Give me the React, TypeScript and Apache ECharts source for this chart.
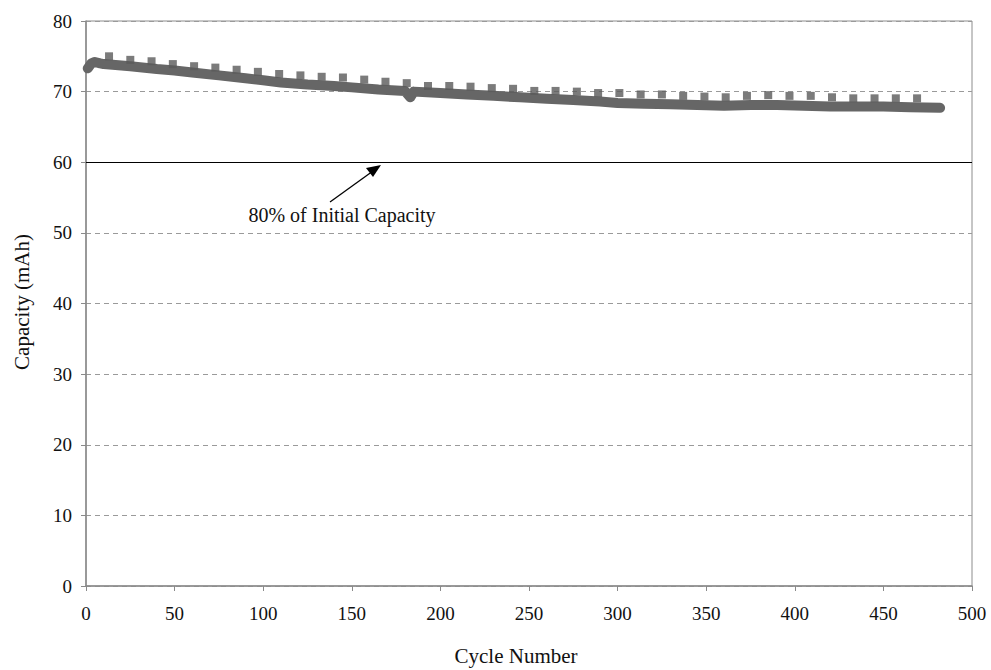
import React, { useEffect, useRef } from "react";
import * as echarts from "echarts";

// Main capacity trace (cycle, mAh)
const bandCycles = [1, 3, 5, 8, 10, 15, 25, 40, 50, 60, 75, 90, 100, 110, 125, 140, 150, 165, 180, 183, 185, 200, 215, 230, 245, 260, 275, 290, 300, 315, 330, 345, 360, 375, 390, 405, 420, 435, 450, 465, 482];
const bandValues = [73.3, 74.0, 74.2, 74.0, 73.9, 73.8, 73.6, 73.2, 73.0, 72.7, 72.3, 71.9, 71.6, 71.3, 71.0, 70.8, 70.6, 70.3, 70.1, 69.2, 70.0, 69.8, 69.6, 69.4, 69.2, 69.0, 68.8, 68.6, 68.4, 68.3, 68.2, 68.1, 68.0, 68.1, 68.1, 68.0, 67.9, 67.9, 67.9, 67.8, 67.7];

// Periodic check-up cycles (every 12th cycle)
const checkCycles = [13, 25, 37, 49, 61, 73, 85, 97, 109, 121, 133, 145, 157, 169, 181, 193, 205, 217, 229, 241, 253, 265, 277, 289, 301, 313, 325, 337, 349, 361, 373, 385, 397, 409, 421, 433, 445, 457, 469];
const checkValues = [75.0, 74.5, 74.3, 73.9, 73.6, 73.4, 73.1, 72.8, 72.5, 72.3, 72.1, 72.0, 71.7, 71.4, 71.2, 70.8, 70.8, 70.7, 70.5, 70.4, 70.1, 70.1, 70.0, 69.8, 69.8, 69.6, 69.6, 69.4, 69.3, 69.2, 69.4, 69.5, 69.4, 69.4, 69.2, 69.05, 69.05, 69.05, 69.05];

const xTicks = { min: 0, max: 500, interval: 50 };
const yTicks = { min: 0, max: 80, interval: 10 };
const thresholdValue = 60;
const annotationText = "80% of Initial Capacity";
const xName = "Cycle Number";
const yName = "Capacity (mAh)";

const FONT = "'Liberation Serif', 'Times New Roman', serif";

export default function App() {
  const ref = useRef<HTMLDivElement>(null);
  useEffect(() => {
    if (!ref.current) return;
    const chart = echarts.init(ref.current, undefined, { renderer: "svg" });
    const band = bandCycles.map((c, i) => [c, bandValues[i]]);
    const checks = checkCycles.map((c, i) => [c, checkValues[i]]);
    chart.setOption({
      animation: false,
      backgroundColor: "#ffffff",
      textStyle: { fontFamily: FONT },
      grid: {
        left: 86,
        top: 21,
        right: 19,
        bottom: 84,
        show: true,
        borderColor: "#8c8c8c",
        borderWidth: 1,
        containLabel: false,
      },
      xAxis: {
        type: "value",
        min: xTicks.min,
        max: xTicks.max,
        interval: xTicks.interval,
        axisLine: { show: true, lineStyle: { color: "#8a8a8a", width: 1.5 } },
        axisTick: { show: true, inside: false, length: 5, lineStyle: { color: "#8a8a8a" } },
        axisLabel: { color: "#111", fontSize: 19, fontFamily: FONT, margin: 18 },
        splitLine: { show: false },
      },
      yAxis: {
        type: "value",
        min: yTicks.min,
        max: yTicks.max,
        interval: yTicks.interval,
        axisLine: { show: true, lineStyle: { color: "#8a8a8a", width: 1.5 } },
        axisTick: { show: true, inside: false, length: 5, lineStyle: { color: "#8a8a8a" } },
        axisLabel: { color: "#111", fontSize: 19, fontFamily: FONT, margin: 14 },
        splitLine: { show: true, lineStyle: { color: "#9a9a9a", type: [5, 4], width: 1 } },
      },
      series: [
        {
          type: "line",
          data: band,
          showSymbol: false,
          symbol: "none",
          lineStyle: { color: "#666666", width: 10, cap: "round", join: "round" },
          z: 3,
          markLine: {
            silent: true,
            symbol: ["none", "none"],
            label: { show: false },
            lineStyle: { color: "#000", type: "solid", width: 1.2 },
            data: [{ yAxis: thresholdValue }],
            z: 1,
          },
        },
        {
          type: "scatter",
          data: checks,
          symbol: "rect",
          symbolSize: 8,
          itemStyle: { color: "#5a5a5a" },
          z: 4,
        },
      ],
      graphic: [
        {
          type: "line",
          shape: { x1: 330, y1: 202, x2: 373, y2: 171 },
          style: { stroke: "#000", lineWidth: 1.3 },
        },
        {
          type: "polygon",
          shape: { points: [[381, 165], [366, 168], [373, 177]] },
          style: { fill: "#000" },
        },
        {
          type: "text",
          x: 342,
          y: 215,
          style: {
            text: annotationText,
            font: `20px ${FONT}`,
            fill: "#111",
            textAlign: "center",
            textVerticalAlign: "middle",
          },
        },
        {
          type: "text",
          x: 516,
          y: 656,
          style: {
            text: xName,
            font: `21px ${FONT}`,
            fill: "#111",
            textAlign: "center",
            textVerticalAlign: "middle",
          },
        },
        {
          type: "text",
          x: 22,
          y: 302,
          rotation: Math.PI / 2,
          style: {
            text: yName,
            font: `21px ${FONT}`,
            fill: "#111",
            textAlign: "center",
            textVerticalAlign: "middle",
          },
        },
      ],
    });
    return () => chart.dispose();
  }, []);
  return <div ref={ref} style={{ width: 991, height: 670, position: "absolute", left: 0, top: 0 }} />;
}
